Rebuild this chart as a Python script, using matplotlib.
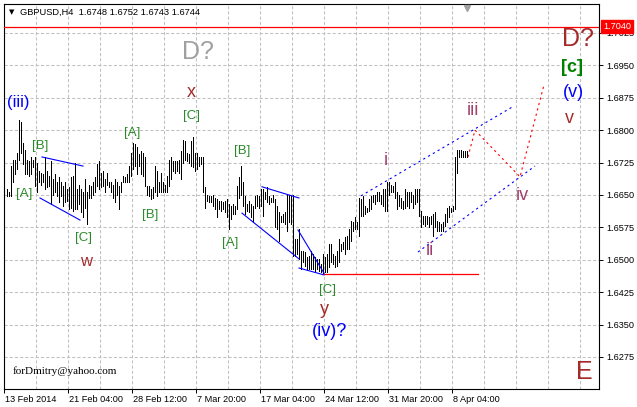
import matplotlib
matplotlib.use('Agg')
import matplotlib.pyplot as plt
import matplotlib.transforms as mtransforms

# ---------------- data ----------------
highs = [
    1.6663, 1.6656, 1.6716, 1.6732, 1.6732, 1.6748, 1.6824, 1.6819, 1.6771, 1.6755,
    1.6732, 1.6728, 1.6739, 1.6732, 1.6739, 1.6725, 1.6705, 1.6702, 1.6698, 1.6737,
    1.6705, 1.6693, 1.6728, 1.6686, 1.6698, 1.6681, 1.6691, 1.6681, 1.6670, 1.6679,
    1.6663, 1.6668, 1.6691, 1.6693, 1.6725, 1.6663, 1.6674, 1.6663, 1.6658, 1.6686,
    1.6656, 1.6674, 1.6670, 1.6681, 1.6691, 1.6721, 1.6728, 1.6702, 1.6705, 1.6686,
    1.6702, 1.6681, 1.6681, 1.6674, 1.6686, 1.6681, 1.6670, 1.6681, 1.6693, 1.6691,
    1.6698, 1.6716, 1.6748, 1.6771, 1.6767, 1.6762, 1.6744, 1.6751, 1.6748, 1.6737,
    1.6670, 1.6670, 1.6663, 1.6668, 1.6716, 1.6705, 1.6681, 1.6702, 1.6679, 1.6674,
    1.6693, 1.6732, 1.6737, 1.6728, 1.6728, 1.6728, 1.6732, 1.6751, 1.6778, 1.6774,
    1.6748, 1.6744, 1.6774, 1.6785, 1.6748, 1.6748, 1.6739, 1.6737, 1.6739, 1.6668,
    1.6651, 1.6647, 1.6647, 1.6651, 1.6644, 1.6640, 1.6635, 1.6635, 1.6633, 1.6635,
    1.6640, 1.6628, 1.6624, 1.6628, 1.6624, 1.6670, 1.6691, 1.6716, 1.6681, 1.6647,
    1.6628, 1.6635, 1.6628, 1.6624, 1.6647, 1.6651, 1.6647, 1.6663, 1.6663, 1.6658,
    1.6668, 1.6647, 1.6644, 1.6651, 1.6640, 1.6624, 1.6610, 1.6601, 1.6605, 1.6610,
    1.6651, 1.6651, 1.6647, 1.6651, 1.6548, 1.6548, 1.6571, 1.6520, 1.6520, 1.6518,
    1.6506, 1.6509, 1.6520, 1.6513, 1.6506, 1.6502, 1.6502, 1.6490, 1.6513, 1.6506,
    1.6513, 1.6536, 1.6536, 1.6513, 1.6509, 1.6520, 1.6548, 1.6536, 1.6541, 1.6552,
    1.6555, 1.6571, 1.6589, 1.6587, 1.6598, 1.6587, 1.6644, 1.6640, 1.6647, 1.6624,
    1.6621, 1.6640, 1.6647, 1.6651, 1.6651, 1.6656, 1.6656, 1.6651, 1.6663, 1.6663,
    1.6681, 1.6681, 1.6674, 1.6670, 1.6679, 1.6658, 1.6651, 1.6644, 1.6635,
    1.6663, 1.6656, 1.6658, 1.6656, 1.6651, 1.6663, 1.6663, 1.6663, 1.6612, 1.6601,
    1.6601, 1.6601, 1.6598, 1.6601, 1.6605, 1.6610, 1.6589, 1.6587, 1.6582, 1.6587,
    1.6605, 1.6621, 1.6624, 1.6621, 1.6624, 1.6737, 1.6755, 1.6755, 1.6755, 1.6751,
    1.6751, 1.6751,
]
lows = [
    1.6647, 1.6647, 1.6647, 1.6681, 1.6698, 1.6709, 1.6732, 1.6748, 1.6721, 1.6698,
    1.6698, 1.6693, 1.6698, 1.6714, 1.6670, 1.6656, 1.6681, 1.6674, 1.6679, 1.6663,
    1.6668, 1.6670, 1.6628, 1.6651, 1.6658, 1.6647, 1.6633, 1.6647, 1.6624, 1.6633,
    1.6635, 1.6617, 1.6621, 1.6612, 1.6617, 1.6617, 1.6628, 1.6610, 1.6598, 1.6621,
    1.6582, 1.6644, 1.6644, 1.6651, 1.6658, 1.6670, 1.6663, 1.6668, 1.6670, 1.6658,
    1.6674, 1.6668, 1.6656, 1.6644, 1.6633, 1.6651, 1.6617, 1.6656, 1.6679, 1.6679,
    1.6679, 1.6681, 1.6693, 1.6709, 1.6716, 1.6698, 1.6716, 1.6698, 1.6693, 1.6670,
    1.6651, 1.6647, 1.6640, 1.6644, 1.6656, 1.6647, 1.6656, 1.6658, 1.6658, 1.6658,
    1.6658, 1.6670, 1.6686, 1.6705, 1.6702, 1.6705, 1.6702, 1.6686, 1.6725, 1.6732,
    1.6728, 1.6725, 1.6716, 1.6714, 1.6705, 1.6709, 1.6716, 1.6721, 1.6658, 1.6621,
    1.6635, 1.6633, 1.6633, 1.6624, 1.6617, 1.6598, 1.6617, 1.6612, 1.6617, 1.6610,
    1.6598, 1.6571, 1.6594, 1.6605, 1.6605, 1.6617, 1.6644, 1.6651, 1.6624, 1.6605,
    1.6612, 1.6610, 1.6598, 1.6587, 1.6621, 1.6624, 1.6621, 1.6624, 1.6601, 1.6640,
    1.6633, 1.6628, 1.6633, 1.6633, 1.6575, 1.6571, 1.6543, 1.6587, 1.6587, 1.6582,
    1.6566, 1.6587, 1.6582, 1.6509, 1.6509, 1.6513, 1.6502, 1.6478, 1.6495, 1.6486,
    1.6478, 1.6478, 1.6478, 1.6478, 1.6474, 1.6478, 1.6474, 1.6472, 1.6467, 1.6472,
    1.6472, 1.6483, 1.6495, 1.6490, 1.6483, 1.6486, 1.6495, 1.6520, 1.6525, 1.6513,
    1.6525, 1.6525, 1.6543, 1.6566, 1.6571, 1.6571, 1.6555, 1.6601, 1.6601, 1.6605,
    1.6610, 1.6612, 1.6617, 1.6633, 1.6628, 1.6635, 1.6635, 1.6628, 1.6624, 1.6612,
    1.6612, 1.6651, 1.6658, 1.6656, 1.6644, 1.6617, 1.6624, 1.6621, 1.6617,
    1.6621, 1.6624, 1.6621, 1.6633, 1.6621, 1.6628, 1.6633, 1.6601, 1.6575, 1.6582,
    1.6578, 1.6582, 1.6575, 1.6582, 1.6555, 1.6575, 1.6566, 1.6566, 1.6566, 1.6566,
    1.6578, 1.6587, 1.6598, 1.6610, 1.6612, 1.6617, 1.6702, 1.6739, 1.6739, 1.6739,
    1.6737, 1.6739,
]

title_text = "GBPUSD,H4  1.6748 1.6752 1.6743 1.6744"
date_labels = ["13 Feb 2014", "21 Feb 04:00", "28 Feb 12:00", "7 Mar 20:00",
               "17 Mar 04:00", "24 Mar 12:00", "31 Mar 20:00", "8 Apr 04:00"]
price_labels = ["1.6275", "1.6350", "1.6425", "1.6500", "1.6575", "1.6650",
                "1.6725", "1.6800", "1.6875", "1.6950", "1.7025"]
resistance_level = 1.7040
low_level = 1.6467

# trend lines: (x0, y0, x1, y1) in bar index / price
wedge_lines = [
    (17.65, 1.6738, 38.15, 1.6717),
    (16.65, 1.6643, 36.65, 1.6592),
    (127.65, 1.6669, 146.15, 1.6643),
    (117.65, 1.6608, 146.15, 1.6502),
    (145.65, 1.6569, 158.65, 1.6469),
    (146.15, 1.6481, 158.65, 1.6465),
]
channel_lines = [
    (177.15, 1.6648, 253.65, 1.6856),
    (205.65, 1.6518, 264.15, 1.6717),
]
forecast_x = [230.65, 234.15, 256.65, 268.65]
forecast_y = [1.6738, 1.6800, 1.6692, 1.6905]

BROWN = '#a52a2a'
MAUVE = '#a0406e'
GREEN = '#2a8a2a'
BLUE = '#0000ff'
labels = [
    ("D?", 95.65, 1.6981, '#a0a0a0', 18, 'normal'),
    ("x", 92.15, 1.6888, BROWN, 13, 'normal'),
    ("[C]", 92.65, 1.6833, GREEN, 9.5, 'normal'),
    ("(iii)", 5.65, 1.6863, BLUE, 12, 'normal'),
    ("[A]", 62.65, 1.6794, GREEN, 9.5, 'normal'),
    ("[B]", 16.65, 1.6764, GREEN, 9.5, 'normal'),
    ("[A]", 8.65, 1.6652, GREEN, 9.5, 'normal'),
    ("[C]", 38.65, 1.6550, GREEN, 9.5, 'normal'),
    ("w", 39.65, 1.6497, BROWN, 12, 'normal'),
    ("[B]", 71.65, 1.6604, GREEN, 9.5, 'normal'),
    ("[B]", 117.65, 1.6752, GREEN, 9.5, 'normal'),
    ("[A]", 111.65, 1.6539, GREEN, 9.5, 'normal'),
    ("[C]", 160.15, 1.6429, GREEN, 9.5, 'normal'),
    ("y", 158.65, 1.6385, BROWN, 13, 'normal'),
    ("(iv)?", 161.65, 1.6334, BLUE, 13, 'normal'),
    ("i", 189.65, 1.6729, MAUVE, 13, 'normal'),
    ("ii", 211.65, 1.6521, MAUVE, 13, 'normal'),
    ("iii", 233.15, 1.6845, MAUVE, 13, 'normal'),
    ("iv", 257.65, 1.6648, MAUVE, 13, 'normal'),
    ("D?", 285.65, 1.7011, BROWN, 18, 'normal'),
    ("[c]", 282.65, 1.6944, '#008000', 13, 'bold'),
    ("(v)", 283.15, 1.6888, BLUE, 13, 'normal'),
    ("v", 281.15, 1.6828, BROWN, 13, 'normal'),
    ("E", 288.65, 1.6240, BROWN, 18, 'normal'),
]

# ---------------- figure ----------------
W, H = 637, 407
fig = plt.figure(figsize=(W / 100, H / 100), dpi=100)
fig.patch.set_facecolor('white')
ax = fig.add_axes([4 / W, 18 / H, 595 / W, 385 / H])
ax.set_facecolor('white')

x0_lim, x1_lim = -1.35, 296.15
y0_lim, y1_lim = 1.62009, 1.70921
ax.set_xlim(x0_lim, x1_lim)
ax.set_ylim(y0_lim, y1_lim)

# grid
grid_step = 16
k = 1
gx = []
while x0_lim + grid_step * k < x1_lim - 2:
    gx.append(x0_lim + grid_step * k)
    k += 1
for g in gx:
    ax.axvline(g, color='#c0c0c0', lw=0.75, ls=(0, (3, 2)), zorder=0)
yt = [float(s) for s in price_labels]
for v in yt:
    ax.axhline(v, color='#c0c0c0', lw=0.75, ls=(0, (3, 2)), zorder=0)

# bars
idx = list(range(len(highs)))
ax.vlines(idx, lows, highs, color='black', lw=0.72, zorder=3, antialiased=False)

# lines
ax.axhline(resistance_level, color='red', lw=0.9, zorder=4)
ax.plot([157.65, 235.65], [low_level, low_level], color='red', lw=0.9, zorder=4)
for (a, b, c, d) in wedge_lines:
    ax.plot([a, c], [b, d], color=BLUE, lw=0.8, zorder=4)
for (a, b, c, d) in channel_lines:
    ax.plot([a, c], [b, d], color=BLUE, lw=0.8, ls=(0, (2, 3)), zorder=4)
ax.plot(forecast_x, forecast_y, color='red', lw=0.8, ls=(0, (2, 3)), zorder=4)

# wave labels
for (s, x, y, c, fs, w) in labels:
    ax.text(x, y, s, color=c, fontsize=fs, fontweight=w, ha='center', va='center',
            family='Liberation Sans', zorder=5)

ax.text(3.15, 1.6242, "forDmitry@yahoo.com", family='Liberation Serif',
        fontsize=8, color='black', ha='left', va='center', zorder=5)

# axes styling
for sp in ax.spines.values():
    sp.set_color('black')
    sp.set_linewidth(0.8)

ax.yaxis.tick_right()
ax.set_yticks(yt)
ax.set_yticklabels(price_labels)
ax.tick_params(axis='y', which='both', direction='out', length=3, width=0.7,
               pad=2, labelsize=6.6, colors='black', left=False)

xt = [x0_lim + grid_step * 2 * j for j in range(len(date_labels))]
ax.set_xticks(xt)
ax.set_xticklabels(date_labels)
ax.tick_params(axis='x', which='both', direction='out', length=3, width=0.7,
               pad=1.5, labelsize=6.6, colors='black')
offset = mtransforms.ScaledTranslation(1 / 100, 0, fig.dpi_scale_trans)
for lbl in ax.get_xticklabels():
    lbl.set_horizontalalignment('left')
    lbl.set_transform(lbl.get_transform() + offset)
for lbl in ax.get_xticklabels() + ax.get_yticklabels():
    lbl.set_family('Liberation Sans')

# red price label on the right axis
btr = mtransforms.blended_transform_factory(ax.transAxes, ax.transData)
ax.text(1.0 + 4 / 595, resistance_level, "1.7040", transform=btr, color='white',
        fontsize=6.6, family='Liberation Sans', ha='left', va='center',
        bbox=dict(facecolor='red', edgecolor='red', boxstyle='square,pad=0.2'),
        clip_on=False, zorder=10)

# shift marker at top
btm = mtransforms.blended_transform_factory(ax.transData, ax.transAxes)
ax.plot([len(highs) - 1], [1 - 4 / 385], marker='v', markersize=4.5,
        color='#a0a0a0', transform=btm, clip_on=False, zorder=6)

# title
fig.text(9 / W, 1 - 12 / H, "\u25BC", fontsize=5, color='black', va='center',
         ha='left', family='DejaVu Sans')
fig.text(20 / W, 1 - 12 / H, title_text, fontsize=6.7, color='black', va='center',
         ha='left', family='Liberation Sans')

fig.savefig('out.png', dpi=100, facecolor='white')
